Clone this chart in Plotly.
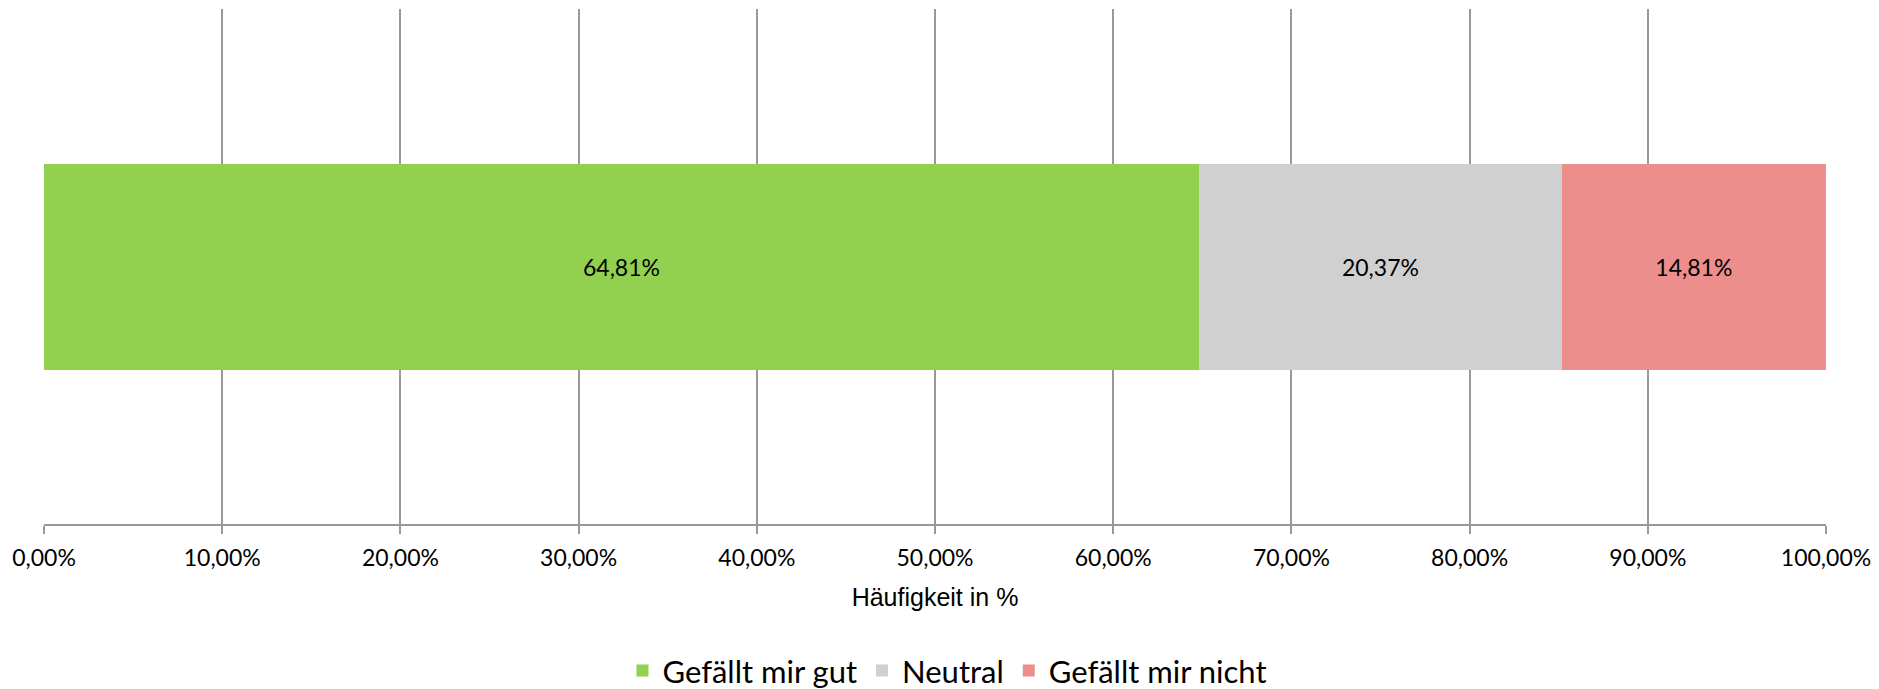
import plotly.graph_objects as go

categories = [""]
series_names = ["Gefällt mir gut", "Neutral", "Gefällt mir nicht"]
series_values = [[0.6481], [0.2037], [0.1481]]
series_colors = ["#92D050", "#D0D0D0", "#EC8E8C"]
tick_values = [0, 0.1, 0.2, 0.3, 0.4, 0.5, 0.6, 0.7, 0.8, 0.9, 1.0]

fig = go.Figure()
for name, vals, col in zip(series_names, series_values, series_colors):
    fig.add_trace(go.Bar(
        x=vals, y=categories, orientation="h", name=name,
        marker=dict(color=col, line=dict(width=0)),
        texttemplate="%{x:.2%}", textposition="inside", insidetextanchor="middle",
        textfont=dict(family="Lato", size=23, color="#000000"),
        width=0.4,
    ))

fig.update_layout(
    barmode="stack",
    width=1871, height=681,
    autosize=False,
    separators=",.",
    paper_bgcolor="white", plot_bgcolor="white",
    margin=dict(l=36, r=53, t=1, b=165, autoexpand=False),
    font=dict(family="Lato", color="#000000"),
    legend=dict(
        orientation="h", x=0.507, xanchor="center",
        y=-0.285, yanchor="middle",
        font=dict(family="Lato", size=31, color="#000000"),
        traceorder="normal",
    ),
    showlegend=True,
)
fig.update_xaxes(
    range=[0, 1], tickvals=tick_values, tickformat=".2%",
    showgrid=True, gridcolor="#999999", gridwidth=2,
    showline=True, linecolor="#999999", linewidth=2,
    ticks="outside", ticklen=8, tickwidth=2, tickcolor="#999999",
    tickangle=0, automargin=False, ticklabelstandoff=4,
    zeroline=False,
    tickfont=dict(family="Lato", size=23, color="#000000"),
    title=dict(text="Häufigkeit in %", standoff=19,
               font=dict(family="Liberation Sans", size=25, color="#000000")),
)
fig.update_yaxes(showticklabels=False, showgrid=False, zeroline=False, showline=False,
                 range=[-0.5, 0.5])

fig.write_html("out.html")
